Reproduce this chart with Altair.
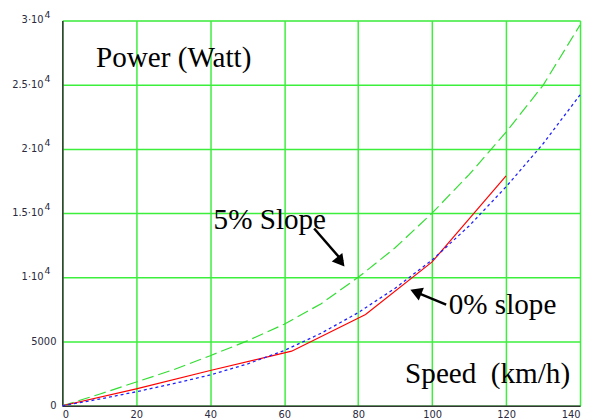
import altair as alt
import pandas as pd

# ---- data ----
speed_5pct = [0, 10, 20, 30, 40, 50, 60, 70, 80, 90, 100, 110, 120, 130, 140]
power_5pct = [0, 900, 1850, 2800, 3900, 5050, 6350, 7950, 10000, 12300, 15000, 18000, 21300, 24950, 29650]

speed_0pct_model = [0, 10, 20, 30, 40, 50, 60, 70, 80, 90, 100, 110, 120, 130, 140]
power_0pct_model = [0, 520, 1090, 1720, 2400, 3250, 4300, 5650, 7250, 9150, 11350, 14000, 17050, 20400, 24200]

speed_measured = [0, 20, 40, 62, 82, 100, 120]
power_measured = [0, 1320, 2750, 4250, 7100, 11200, 17900]

x_ticks = [0, 20, 40, 60, 80, 100, 120, 140]
y_ticks = [0, 5000, 10000, 15000, 20000, 25000, 30000]
y_tick_base = ["0", "5000", "1·10", "1.5·10", "2·10", "2.5·10", "3·10"]
y_tick_exp = ["", "", "4", "4", "4", "4", "4"]

# annotations (data coordinates)
label_text = ["Power (Watt)", "5% Slope", "0% slope", "Speed\u00a0\u00a0(km/h)"]
label_x = [9.1, 40.9, 104.5, 92.7]
label_y = [26350, 13800, 7115, 1810]

arrow_x = [68.1, 103.8]
arrow_y = [13800, 7880]
arrow_x2 = [75.8, 94.8]
arrow_y2 = [11250, 8950]
head_x = [75.3, 95.6]
head_y = [11210, 8860]
head_angle = [141, 292]

# ---- tables ----
df5 = pd.DataFrame({"speed": speed_5pct, "power": power_5pct})
df0 = pd.DataFrame({"speed": speed_0pct_model, "power": power_0pct_model})
dfm = pd.DataFrame({"speed": speed_measured, "power": power_measured})
df_lab = pd.DataFrame({"x": label_x, "y": label_y, "t": label_text})
df_arr = pd.DataFrame({"x": arrow_x, "y": arrow_y, "x2": arrow_x2, "y2": arrow_y2})
df_head = pd.DataFrame({"x": head_x, "y": head_y, "a": head_angle})
df_yt = pd.DataFrame({"v": y_ticks, "base": y_tick_base, "exp": y_tick_exp})
df_yt_plain = df_yt[df_yt["exp"] == ""]
df_yt_pow = df_yt[df_yt["exp"] != ""]

GRID = "#3cef3c"
LABEL_COLOR = "#2a2a40"
LFONT = "DejaVu Sans"

xs = alt.Scale(domain=[0, 140], nice=False, zero=True)
ys = alt.Scale(domain=[0, 30000], nice=False, zero=True)

x_axis = alt.Axis(values=x_ticks, grid=True, gridColor=GRID, gridWidth=1.5, gridOpacity=1,
                  ticks=False, labelPadding=4, labelFont=LFONT, labelFontSize=10,
                  labelColor=LABEL_COLOR, domainColor="#333", domainWidth=1.5, title=None,
                  labelFlush=True)
y_axis = alt.Axis(values=y_ticks, grid=True, gridColor=GRID, gridWidth=1.5, gridOpacity=1,
                  ticks=False, labels=False, domainColor="#333", domainWidth=1.5, title=None)

base_x = alt.X("speed:Q", scale=xs, axis=x_axis)
base_y = alt.Y("power:Q", scale=ys, axis=y_axis)

green = alt.Chart(df5).mark_line(color="#33dd33", strokeWidth=1.2, strokeDash=[12, 5]).encode(
    x=base_x, y=base_y)
red = alt.Chart(dfm).mark_line(color="#ff0000", strokeWidth=1.2).encode(
    x=alt.X("speed:Q", scale=xs), y=alt.Y("power:Q", scale=ys))
blue = alt.Chart(df0).mark_line(color="#2020ff", strokeWidth=1.3, strokeDash=[3, 3]).encode(
    x=alt.X("speed:Q", scale=xs), y=alt.Y("power:Q", scale=ys))

texts = alt.Chart(df_lab).mark_text(
    font="Liberation Serif", fontSize=29.5, align="left", baseline="alphabetic", color="black"
).encode(x=alt.X("x:Q", scale=xs), y=alt.Y("y:Q", scale=ys), text="t:N")

shafts = alt.Chart(df_arr).mark_rule(color="black", strokeWidth=2.5).encode(
    x=alt.X("x:Q", scale=xs), y=alt.Y("y:Q", scale=ys), x2="x2:Q", y2="y2:Q")

heads = alt.Chart(df_head).mark_point(
    shape="triangle-up", filled=True, color="black", size=190, opacity=1
).encode(x=alt.X("x:Q", scale=xs), y=alt.Y("y:Q", scale=ys), angle=alt.Angle("a:Q", scale=None))

# y tick labels drawn as text (for the raised exponent)
yl_plain = alt.Chart(df_yt_plain).mark_text(
    font=LFONT, fontSize=10, align="right", baseline="middle", color=LABEL_COLOR
).encode(x=alt.value(-6), y=alt.Y("v:Q", scale=ys), text="base:N")
yl_base = alt.Chart(df_yt_pow).mark_text(
    font=LFONT, fontSize=10, align="right", baseline="middle", color=LABEL_COLOR
).encode(x=alt.value(-19), y=alt.Y("v:Q", scale=ys), text="base:N")
yl_exp = alt.Chart(df_yt_pow).mark_text(
    font=LFONT, fontSize=9.5, align="left", baseline="middle", color=LABEL_COLOR, dy=-6
).encode(x=alt.value(-18), y=alt.Y("v:Q", scale=ys), text="exp:N")

chart = alt.layer(green, red, blue, shafts, heads, texts, yl_plain, yl_base, yl_exp).properties(
    width=524, height=390,
    autosize=alt.AutoSizeParams(type="none"),
    padding={"left": 55, "top": 10, "right": 2, "bottom": 30},
).configure_view(stroke="#333", strokeWidth=1.5).configure(background="white")

chart.save("out.html", embed_options={"renderer": "svg", "actions": False})
